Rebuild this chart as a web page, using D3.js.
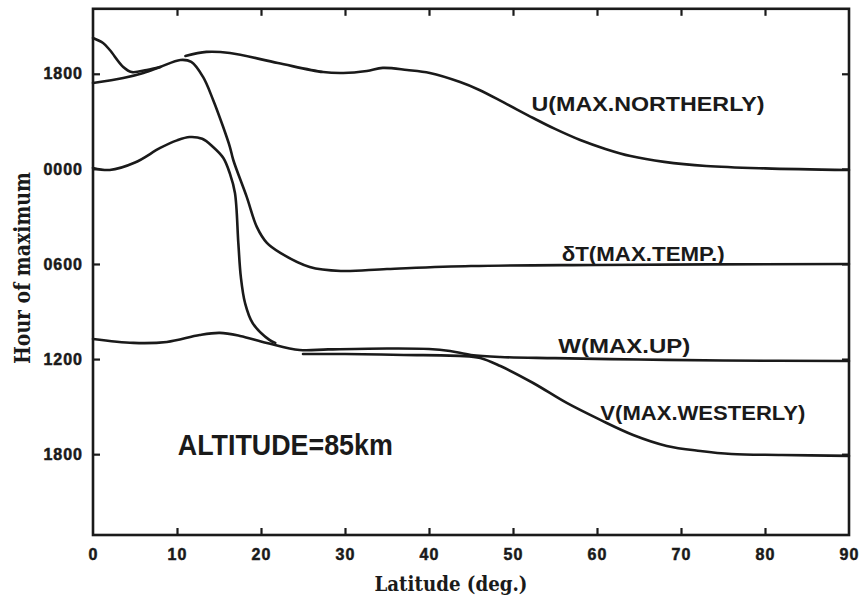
<!DOCTYPE html>
<html>
<head>
<meta charset="utf-8">
<script src="https://cdn.jsdelivr.net/npm/d3@7"></script>
<style>
  html, body { margin: 0; padding: 0; background: #fff; }
  svg { display: block; }
</style>
</head>
<body>
<svg id="chart" width="865" height="607"></svg>
<script>
// Hour of maximum (hours, continuous across midnight: -6 = 1800 of the previous day)
// versus latitude (deg.), at 85 km. null marks a break in a hand-drawn curve.

const latU  = [0, 1.2, 2, 3.6, 4.6, 6.4, 8, 9.5, 11, 13.5, 16.3, 22, 27.4, 29.8, 32.6, 34.5, 37.4, 40.1, 43.7, 46, 49, 52.4, 55, 58, 61, 64, 68, 73, 80, 90];
const hourU = [-8.26, -7.94, -7.5, -6.43, -6.11, -6.24, -6.43, null, -7.12, -7.38, -7.31, -6.68, -6.11, -6.05, -6.18, -6.37, -6.24, -6.05, -5.48, -4.98, -4.16, -3.21, -2.52, -1.82, -1.26, -0.81, -0.44, -0.18, -0.03, 0.07];

const latT  = [0, 3.6, 6, 8, 10.4, 11.7, 13.1, 14.3, 15.5, 16.3, 16.7, 18.3, 19.5, 20.7, 22.3, 25.8, 29.5, 35, 45, 60, 90];
const hourT = [-5.42, -5.73, -6.05, -6.43, -6.87, -6.75, -5.80, -4.35, -2.64, -1.38, -0.56, 1.77, 3.66, 4.67, 5.30, 6.19, 6.44, 6.32, 6.13, 6.06, 6.00];

const latV  = [0, 2, 5, 8, 10, 11.5, 13, 14.3, 15.5, 16.3, 16.9, 17.3, 17.6, 18.1, 19, 21, 21.7, 23.5, 25, 30, 37, 43.6, 46.1, 48.5, 52.4, 56.4, 60.4, 64.3, 68.3, 72.3, 76, 82, 90];
const hourV = [-0.06, 0.07, -0.4, -1.32, -1.8, -2.01, -1.9, -1.38, -0.7, 0.3, 1.52, 4.67, 6.82, 8.46, 9.72, 10.79, 10.98, null, 11.68, 11.68, 11.74, 11.80, 11.93, 12.44, 13.51, 14.77, 15.84, 16.79, 17.48, 17.80, 17.99, 18.05, 18.11];

const latW  = [0, 4.8, 8.8, 12.7, 15.1, 17.5, 20.7, 24.6, 28, 35, 40, 42.5, 45, 48.5, 55, 65, 75, 90];
const hourW = [10.73, 10.98, 10.92, 10.48, 10.35, 10.54, 10.98, 11.43, 11.39, 11.33, 11.36, 11.49, 11.74, 11.87, 11.94, 12.03, 12.09, 12.12];

const latTicks  = [0, 10, 20, 30, 40, 50, 60, 70, 80, 90];
const hourTicks = [-6, 0, 6, 12, 18];

const seriesNames = ["U(MAX.NORTHERLY)", "δT(MAX.TEMP.)", "W(MAX.UP)", "V(MAX.WESTERLY)"];
const altitudeNote = "ALTITUDE=85km";

// ---- layout ----
const svg = d3.select("#chart");
const plotL = 93, plotR = 849, plotT = 8.8, plotB = 535;

const x = d3.scaleLinear().domain([0, 90]).range([plotL, plotR]);
const y = d3.scaleLinear().domain([-10.1, 23.1]).range([plotT, plotB]);

const ink = "#1a1a1a";
const fmtHour = h => String((((h % 24) + 24) % 24) * 100).padStart(4, "0");

// ---- curves ----
const zip = (a, b) => a.map((v, i) => [v, b[i]]);
const curves = [zip(latU, hourU), zip(latT, hourT), zip(latW, hourW), zip(latV, hourV)];

const line = d3.line()
  .defined(d => d[1] !== null)
  .x(d => x(d[0]))
  .y(d => y(d[1]))
  .curve(d3.curveCatmullRom.alpha(0.5));

svg.append("g")
  .selectAll("path")
  .data(curves)
  .join("path")
  .attr("d", line)
  .attr("fill", "none")
  .attr("stroke", ink)
  .attr("stroke-width", 2.6)
  .attr("stroke-linecap", "round")
  .attr("stroke-linejoin", "round");

// ---- frame and inward ticks ----
svg.append("rect")
  .attr("x", plotL).attr("y", plotT)
  .attr("width", plotR - plotL).attr("height", plotB - plotT)
  .attr("fill", "none").attr("stroke", ink).attr("stroke-width", 2.6);

const tickFont = "'Liberation Sans', Arial, sans-serif";

const gx = svg.append("g")
  .attr("transform", `translate(0,${plotB})`)
  .call(d3.axisBottom(x).tickValues(latTicks).tickSize(-7).tickPadding(14).tickFormat(d3.format("d")));
const gxTop = svg.append("g")
  .attr("transform", `translate(0,${plotT})`)
  .call(d3.axisTop(x).tickValues(latTicks.slice(1, -1)).tickSize(-7).tickFormat(""));
const gy = svg.append("g")
  .attr("transform", `translate(${plotL},0)`)
  .call(d3.axisLeft(y).tickValues(hourTicks).tickSize(-7).tickPadding(10).tickFormat(fmtHour));
const gyRight = svg.append("g")
  .attr("transform", `translate(${plotR},0)`)
  .call(d3.axisRight(y).tickValues(hourTicks).tickSize(-7).tickFormat(""));

[gx, gxTop, gy, gyRight].forEach(g => {
  g.select(".domain").remove();
  g.selectAll(".tick line").attr("stroke", ink).attr("stroke-width", 2.2);
  g.selectAll(".tick text")
    .attr("fill", ink)
    .attr("stroke", ink)
    .attr("stroke-width", 0.5)
    .style("font-family", tickFont)
    .style("font-weight", "900")
    .style("font-size", "16px")
    .style("letter-spacing", "1px");
});
gx.selectAll(".tick line").filter(d => d === 0 || d === 90).remove();

// ---- axis titles ----
const serif = "'DejaVu Serif', 'Liberation Serif', serif";
svg.append("text")
  .attr("x", 451).attr("y", 591)
  .attr("text-anchor", "middle")
  .attr("textLength", 153).attr("lengthAdjust", "spacingAndGlyphs")
  .style("font-family", serif).style("font-weight", "bold").style("font-size", "21px")
  .attr("fill", ink)
  .text("Latitude (deg.)");

svg.append("text")
  .attr("transform", "translate(30,268) rotate(-90)")
  .attr("text-anchor", "middle")
  .attr("textLength", 192).attr("lengthAdjust", "spacingAndGlyphs")
  .style("font-family", serif).style("font-weight", "bold").style("font-size", "22px")
  .attr("fill", ink)
  .text("Hour of maximum");

// ---- curve labels (anchored in data coordinates) ----
const labelFont = "'Liberation Sans', Arial, sans-serif";
const labels = [
  { text: seriesNames[0], lat: 52.2, hour: -3.65, len: 233, size: 21 },
  { text: seriesNames[1], lat: 55.8, hour: 5.81,  len: 163, size: 21 },
  { text: seriesNames[2], lat: 55.4, hour: 11.62, len: 132, size: 21 },
  { text: seriesNames[3], lat: 60.4, hour: 15.84, len: 205, size: 21 },
  { text: altitudeNote,   lat: 10.1, hour: 18.05, len: 215, size: 29 }
];
svg.append("g")
  .selectAll("text")
  .data(labels)
  .join("text")
  .attr("x", d => x(d.lat))
  .attr("y", d => y(d.hour))
  .attr("textLength", d => d.len)
  .attr("lengthAdjust", "spacingAndGlyphs")
  .style("font-family", labelFont)
  .style("font-weight", "bold")
  .style("font-size", d => d.size + "px")
  .attr("fill", ink)
  .text(d => d.text);
</script>
</body>
</html>
